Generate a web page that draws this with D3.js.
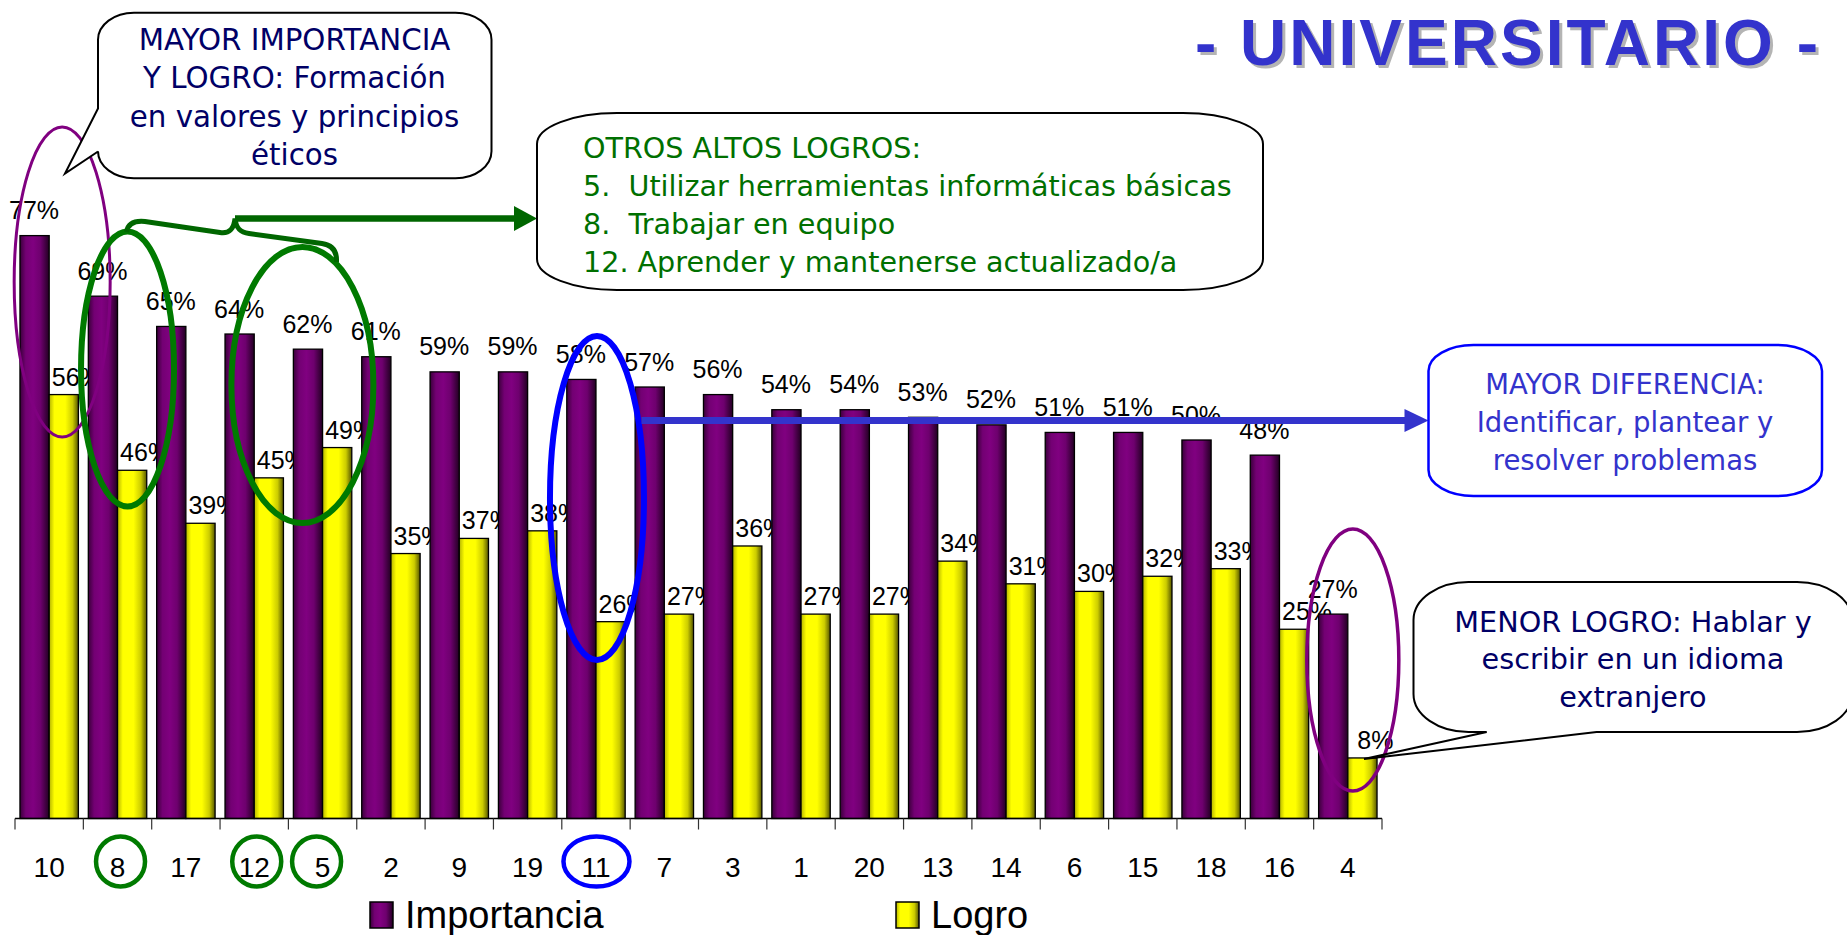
<!DOCTYPE html>
<html>
<head>
<meta charset="utf-8">
<script src="https://cdn.jsdelivr.net/npm/d3@7"></script>
<style>
  body { margin: 0; background: #fff; }
  svg { display: block; }
</style>
</head>
<body>
<script>
'use strict';

// chart data
const categories = ['10', '8', '17', '12', '5', '2', '9', '19', '11', '7', '3', '1', '20', '13', '14', '6', '15', '18', '16', '4'];
const importancia = [77, 69, 65, 64, 62, 61, 59, 59, 58, 57, 56, 54, 54, 53, 52, 51, 51, 50, 48, 27];
const logro = [56, 46, 39, 45, 49, 35, 37, 38, 26, 27, 36, 27, 27, 34, 31, 30, 32, 33, 25, 8];
const seriesNames = ['Importancia', 'Logro'];

// callout texts
const titleText = '- UNIVERSITARIO -';
const calloutTop = ['MAYOR IMPORTANCIA', 'Y LOGRO: Formación', 'en valores y principios', 'éticos'];
const calloutGreen = ['OTROS ALTOS LOGROS:', '5.  Utilizar herramientas informáticas básicas', '8.  Trabajar en equipo', '12. Aprender y mantenerse actualizado/a'];
const calloutBlue = ['MAYOR DIFERENCIA:', 'Identificar, plantear y', 'resolver problemas'];
const calloutLow = ['MENOR LOGRO: Hablar y', 'escribir en un idioma', 'extranjero'];

(function() {

  let svg = '';
  const W = 1847, H = 935;
  const base = 818.5;

  window.onload = function() {
    svg = d3.select('body')
      .append('svg')
      .attr('width', W)
      .attr('height', H);

    makeGradients();

    // scales
    let x0 = d3.scaleBand()
      .domain(categories)
      .range([15, 1382]);
    let x1 = d3.scaleBand()
      .domain(seriesNames)
      .range([0, x0.bandwidth()])
      .paddingOuter(0.17);
    let y = d3.scaleLinear()
      .domain([0, 100])
      .range([base, 61.5]);

    drawBars(x0, x1, y);
    drawAxis(x0);
    drawLegend();
    drawAnnotations(x0, x1, y);
    drawTitle();
  }

  function makeGradients() {
    let defs = svg.append('defs');
    let purple = defs.append('linearGradient').attr('id', 'gPurple')
      .attr('x1', 0).attr('x2', 1).attr('y1', 0).attr('y2', 0);
    [[0, '#3a003a'], [0.2, '#730073'], [0.45, '#800080'], [0.7, '#6e006e'], [1, '#220022']]
      .forEach(s => purple.append('stop').attr('offset', s[0]).attr('stop-color', s[1]));
    let yellow = defs.append('linearGradient').attr('id', 'gYellow')
      .attr('x1', 0).attr('x2', 1).attr('y1', 0).attr('y2', 0);
    [[0, '#b5b500'], [0.18, '#ffff00'], [0.55, '#ffff00'], [0.8, '#cccc00'], [1, '#555500']]
      .forEach(s => yellow.append('stop').attr('offset', s[0]).attr('stop-color', s[1]));
  }

  function drawBars(x0, x1, y) {
    let rows = categories.map((c, i) => ({cat: c, values: [importancia[i], logro[i]]}));
    let fills = ['url(#gPurple)', 'url(#gYellow)'];

    let groups = svg.append('g').selectAll('g')
      .data(rows)
      .enter()
      .append('g')
      .attr('transform', d => 'translate(' + x0(d.cat) + ',0)');

    groups.selectAll('rect')
      .data(d => d.values.map((v, k) => ({key: seriesNames[k], k: k, v: v})))
      .enter()
      .append('rect')
        .attr('x', d => x1(d.key))
        .attr('y', d => y(d.v))
        .attr('width', x1.bandwidth())
        .attr('height', d => base - y(d.v))
        .attr('fill', d => fills[d.k])
        .attr('stroke', '#000')
        .attr('stroke-width', 1.3);

    // value labels; yellow ones sit a bit to the right like the original
    groups.selectAll('text')
      .data(d => d.values.map((v, k) => ({key: seriesNames[k], k: k, v: v})))
      .enter()
      .append('text')
        .attr('x', d => x1(d.key) + x1.bandwidth() / 2 + (d.k === 1 ? 13 : -0.5))
        .attr('y', d => y(d.v) - (d.k === 1 ? 9 : 16.5))
        .attr('text-anchor', 'middle')
        .style('font-family', '"Liberation Sans", Arial, sans-serif')
        .style('font-size', '25px')
        .text(d => d.v + '%');
  }

  function drawAxis(x0) {
    let axis = d3.axisBottom(x0).tickSize(0);
    let g = svg.append('g')
      .attr('transform', 'translate(0,' + base + ')')
      .call(axis);
    g.select('.domain').remove();
    g.selectAll('text')
      .attr('y', 58.5)
      .attr('dy', 0)
      .style('font-family', '"Liberation Sans", Arial, sans-serif')
      .style('font-size', '28px')
      .attr('fill', '#000');

    // baseline and ticks at the category boundaries
    let r = x0.range();
    svg.append('line')
      .attr('x1', r[0]).attr('x2', r[1])
      .attr('y1', base).attr('y2', base)
      .attr('stroke', '#000').attr('stroke-width', 1.5);
    let edges = categories.map(c => x0(c)).concat([r[1]]);
    svg.append('g').selectAll('line')
      .data(edges)
      .enter()
      .append('line')
        .attr('x1', d => d).attr('x2', d => d)
        .attr('y1', base).attr('y2', base + 11)
        .attr('stroke', '#333').attr('stroke-width', 1.2);
  }

  function drawLegend() {
    let items = [
      {name: seriesNames[0], fill: 'url(#gPurple)', x: 370},
      {name: seriesNames[1], fill: 'url(#gYellow)', x: 896}
    ];
    let lg = svg.append('g').selectAll('g')
      .data(items)
      .enter()
      .append('g')
      .attr('transform', d => 'translate(' + d.x + ',0)');
    lg.append('rect')
      .attr('x', 0).attr('y', 902)
      .attr('width', 23).attr('height', 26)
      .attr('fill', d => d.fill)
      .attr('stroke', '#000').attr('stroke-width', 1.5);
    lg.append('text')
      .attr('x', 35).attr('y', 928)
      .style('font-family', '"Liberation Sans", Arial, sans-serif')
      .style('font-size', '38px')
      .text(d => d.name);
  }

  // rounded box with elliptical corners, optional pointer on left or bottom side
  function calloutPath(b, tail) {
    let p = 'M' + (b.x0 + b.rx) + ',' + b.y0 +
      'H' + (b.x1 - b.rx) +
      'A' + b.rx + ',' + b.ry + ' 0 0 1 ' + b.x1 + ',' + (b.y0 + b.ry) +
      'V' + (b.y1 - b.ry) +
      'A' + b.rx + ',' + b.ry + ' 0 0 1 ' + (b.x1 - b.rx) + ',' + b.y1;
    if (tail && tail.side === 'bottom') {
      p += 'H' + tail.b + 'L' + tail.tip[0] + ',' + tail.tip[1] + 'L' + tail.a + ',' + b.y1;
    }
    p += 'H' + (b.x0 + b.rx) +
      'A' + b.rx + ',' + b.ry + ' 0 0 1 ' + b.x0 + ',' + (b.y1 - b.ry);
    if (tail && tail.side === 'left') {
      p += 'L' + b.x0 + ',' + tail.b + 'L' + tail.tip[0] + ',' + tail.tip[1] + 'L' + b.x0 + ',' + tail.a;
    }
    p += 'V' + (b.y0 + b.ry) +
      'A' + b.rx + ',' + b.ry + ' 0 0 1 ' + (b.x0 + b.rx) + ',' + b.y0 + 'Z';
    return p;
  }

  function callout(box, tail, stroke, lines, o) {
    svg.append('path')
      .attr('d', calloutPath(box, tail))
      .attr('fill', '#fff')
      .attr('stroke', stroke)
      .attr('stroke-width', o.sw || 2);
    svg.append('g').selectAll('text')
      .data(lines)
      .enter()
      .append('text')
        .attr('x', o.x)
        .attr('y', (d, i) => o.y + i * o.step)
        .attr('text-anchor', o.anchor)
        .attr('fill', o.color)
        .style('white-space', 'pre')
        .style('font-family', '"DejaVu Sans", Verdana, sans-serif')
        .style('font-size', o.size + 'px')
        .text(d => d);
  }

  function ellipse(cx, cy, rx, ry, color, sw) {
    svg.append('ellipse')
      .attr('cx', cx).attr('cy', cy)
      .attr('rx', rx).attr('ry', ry)
      .attr('fill', 'none')
      .attr('stroke', color)
      .attr('stroke-width', sw);
  }

  function arrow(xa, xb, yy, color, sw, head) {
    svg.append('line')
      .attr('x1', xa).attr('x2', xb - head[0] + 2)
      .attr('y1', yy).attr('y2', yy)
      .attr('stroke', color).attr('stroke-width', sw);
    svg.append('path')
      .attr('d', 'M' + (xb - head[0]) + ',' + (yy - head[1]) + 'L' + xb + ',' + yy + 'L' + (xb - head[0]) + ',' + (yy + head[1]) + 'Z')
      .attr('fill', color);
  }

  function drawAnnotations(x0, x1, y) {
    let mid = c => x0(c) + x0.bandwidth() / 2;
    let green = '#007a00', dkGreen = '#006600', purple = '#800080', blue = '#0000ff';

    // purple ellipses: highest (10) and lowest (4)
    ellipse(mid('10') + 13, 282, 48, 155, purple, 3);
    ellipse(mid('4') + 5, 660, 46, 131, purple, 3.5);

    // green ellipses round 8, 12 and 5
    ellipse(mid('8') + 10, 369, 46.5, 137.5, green, 6);
    ellipse((mid('12') + mid('5')) / 2 + 14, 385, 71, 138, green, 6);

    // blue ellipse round 11
    ellipse(mid('11') + 1, 498, 47, 162, blue, 6);

    // circles round the category labels
    [['8', 3, green, 24.5], ['12', 2.5, green, 24.5], ['5', -6, green, 24.5], ['11', 0.5, blue, 33]]
      .forEach(c => ellipse(mid(c[0]) + c[1], 861.5, c[3], 25, c[2], 4.5));

    // green brace + arrow
    svg.append('path')
      .attr('d', 'M126.5,232 C128,223 135,220.5 145,221.5 L220,232.5 C230,234 234,228 235,218.5 ' +
                 'C236,228 240,232.5 249,233.5 L322,243.5 C333,245 337,252 336.5,262')
      .attr('fill', 'none')
      .attr('stroke', dkGreen)
      .attr('stroke-width', 5);
    arrow(235, 537, 218.5, dkGreen, 6.5, [23, 12.5]);

    // blue arrow
    arrow(641.5, 1428.5, 420.5, '#3333cc', 7, [24, 11.5]);

    callout({x0: 98, y0: 12.7, x1: 491.5, y1: 178.3, rx: 36, ry: 27},
      {side: 'left', a: 108.5, b: 151.5, tip: [65, 173.5]}, '#000', calloutTop,
      {x: 294.5, y: 50, step: 38.3, anchor: 'middle', color: '#000066', size: 29.3});

    callout({x0: 537, y0: 113, x1: 1263, y1: 290, rx: 80, ry: 31}, null, '#000', calloutGreen,
      {x: 583, y: 158.3, step: 37.8, anchor: 'start', color: '#007000', size: 28.6});

    callout({x0: 1428.5, y0: 345, x1: 1822, y1: 496, rx: 45, ry: 26}, null, blue, calloutBlue,
      {x: 1625, y: 394, step: 38, anchor: 'middle', color: '#3333cc', size: 27.5, sw: 2.5});

    callout({x0: 1413.5, y0: 582, x1: 1852, y1: 732, rx: 55, ry: 38},
      {side: 'bottom', a: 1486.7, b: 1596.6, tip: [1364, y(logro[19]) + 1]}, '#000', calloutLow,
      {x: 1633, y: 631.7, step: 37.5, anchor: 'middle', color: '#000066', size: 28.7});
  }

  function drawTitle() {
    [['#b4b4b4', 3], ['#3333cc', 0]].forEach(t => {
      svg.append('text')
        .attr('x', 1195 + t[1])
        .attr('y', 65 + t[1])
        .attr('textLength', 623)
        .attr('lengthAdjust', 'spacing')
        .attr('fill', t[0])
        .style('font-family', '"Liberation Sans", Arial, sans-serif')
        .style('font-weight', 'bold')
        .style('font-size', '64px')
        .text(titleText);
    });
  }

})();
</script>
</body>
</html>
